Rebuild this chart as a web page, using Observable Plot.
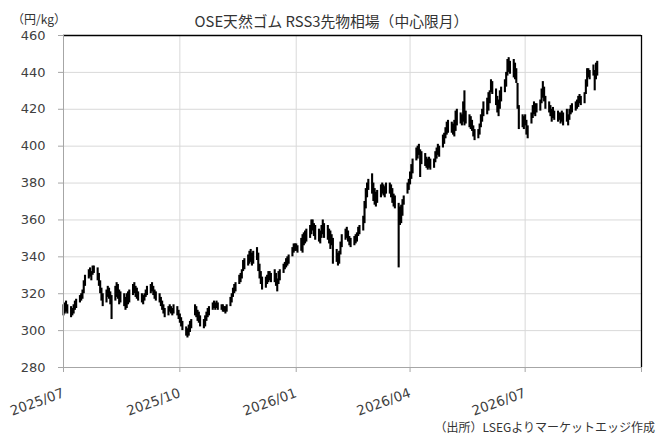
<!DOCTYPE html>
<html><head><meta charset="utf-8">
<script src="https://cdn.jsdelivr.net/npm/d3@7"></script>
<script src="https://cdn.jsdelivr.net/npm/@observablehq/plot@0.6"></script>
<style>
body{margin:0;background:#fff;}
#wrap{position:relative;width:670px;height:438px;font-family:"Noto Sans CJK JP",sans-serif;color:#333;}
#wrap svg{display:block;}
.t{position:absolute;white-space:nowrap;line-height:1;}
</style></head><body>
<div id="wrap">
<div class="t" id="unit" style="left:12px;top:13px;font-size:12px;"></div>
<div class="t" id="title" style="left:0;width:663px;text-align:center;top:14px;font-size:14.8px;"></div>
<div class="t" id="caption" style="right:15px;top:421px;font-size:12px;"></div>
</div>
<script>
const titleText = "OSE天然ゴム RSS3先物相場（中心限月）";
const unitText = "（円/kg）";
const captionText = "（出所）LSEGよりマーケットエッジ作成";
const startDate = "2025-07-01";
const yTicks = [280, 300, 320, 340, 360, 380, 400, 420, 440, 460];
const xTicks = ["2025-07-01", "2025-10-01", "2026-01-01", "2026-04-01", "2026-07-01", "2026-10-01"];
const xTickLabels = ["2025/07", "2025/10", "2026/01", "2026/04", "2026/07", ""];
// daily low / high (one row per week)
const low = [
 308,309,310,309,
 307,308,309,311,312,
 315,316,317,320,324,
 328,329,327,330,331,
 327,324,320,316,313,
 315,318,317,314,306,
 316,318,317,314,315,
 313,311,312,314,315,
 319,320,318,317,316,
 315,314,316,318,319,
 320,321,319,317,316,
 315,313,311,309,307,
 308,310,309,308,309,
 308,306,304,302,300,
 297,296,297,299,301,
 308,307,305,304,302,
 301,302,305,307,308,
 311,312,311,312,311,
 311,310,310,309,310,
 313,315,318,320,321,
 325,326,328,332,333,
 335,336,337,335,336,
 338,332,328,325,322,
 323,325,326,327,326,
 326,324,321,325,327,
 331,333,334,335,336,
 340,342,343,343,342,
 343,342,346,347,348,
 350,352,354,351,349,
 348,347,350,352,350,
 349,347,344,346,336,
 337,335,336,341,345,
 349,350,348,346,345,
 346,347,348,351,352,
 354,358,366,372,376,
 374,370,368,367,369,
 372,374,373,372,374,
 374,372,369,367,366,
 334,357,358,362,368,
 374,376,379,382,385,
 392,393,395,383,390,
 389,388,387,388,387,
 388,391,393,395,394,
 399,401,404,406,407,
 407,406,405,408,411,
 412,411,413,411,412,
 410,409,408,405,403,
 404,406,410,413,416,
 417,419,423,429,428,
 422,418,416,420,424,
 429,432,438,440,439,
 437,436,434,420,409,
 410,409,411,406,404,
 412,415,417,416,418,
 419,423,426,424,420,
 418,416,413,415,414,
 413,414,412,413,411,
 413,411,414,417,418,
 419,420,421,423,422,
 423,428,432,437,436,
 438,430,436,438
];
const high = [
 314,315,316,314,
 313,312,314,316,317,
 319,320,322,327,330,
 333,334,332,335,335,
 334,331,327,323,320,
 322,324,323,321,319,
 324,326,325,322,321,
 320,318,320,321,322,
 325,326,324,323,321,
 320,319,320,322,324,
 325,326,324,322,321,
 320,318,316,314,312,
 313,314,313,312,314,
 313,311,309,307,305,
 302,301,303,305,306,
 314,313,311,310,308,
 306,308,310,312,313,
 315,316,315,316,315,
 314,314,313,313,314,
 318,320,323,325,326,
 330,331,333,338,339,
 341,343,344,342,343,
 345,342,336,332,329,
 329,330,332,332,331,
 333,331,328,332,333,
 336,337,339,340,341,
 345,347,347,347,346,
 350,352,353,354,355,
 357,360,360,358,357,
 355,354,357,360,358,
 357,355,354,352,350,
 344,342,343,348,352,
 355,356,354,351,350,
 351,352,353,356,357,
 362,370,377,380,382,
 385,380,377,375,376,
 379,380,379,378,380,
 380,379,377,374,373,
 369,367,368,371,373,
 380,382,386,390,393,
 399,400,401,398,397,
 396,394,393,394,393,
 393,397,399,401,400,
 406,407,410,413,414,
 413,412,414,419,420,
 418,417,424,430,419,
 417,416,414,411,409,
 409,412,417,420,424,
 426,429,430,436,435,
 431,427,425,430,432,
 436,440,447,448,446,
 447,445,442,434,422,
 417,416,417,414,411,
 418,422,424,423,423,
 425,431,435,432,427,
 424,422,420,421,419,
 419,418,418,419,418,
 420,417,420,422,423,
 424,425,427,428,427,
 429,436,442,442,441,
 444,441,445,446
];

document.getElementById("title").textContent = titleText;
document.getElementById("unit").textContent = unitText;
document.getElementById("caption").textContent = captionText;

// trading-day calendar (weekdays) from the start date
const dates = [];
{
  let d = new Date(startDate + "T00:00:00Z");
  while (dates.length < low.length) {
    const wd = d.getUTCDay();
    if (wd !== 0 && wd !== 6) dates.push(new Date(d));
    d = new Date(d.getTime() + 86400000);
  }
}
const bars = dates.map((date, i) => ({date, low: low[i], high: high[i]}));
const xTickDates = xTicks.map(s => new Date(s + "T00:00:00Z"));
const xStart = xTickDates[0], xEnd = xTickDates[xTickDates.length - 1];
const fmtX = d => { const i = xTickDates.findIndex(t => +t === +d); return i < 0 ? "" : xTickLabels[i]; };

const chart = Plot.plot({
  width: 670, height: 438,
  marginLeft: 63, marginRight: 29, marginTop: 35, marginBottom: 71,
  style: {fontFamily: "'DejaVu Sans', sans-serif", fontSize: "13px", color: "#404040", background: "#fff"},
  x: {type: "utc", domain: [xStart, xEnd]},
  y: {domain: [280, 460]},
  marks: [
    Plot.gridY(yTicks, {stroke: "#d9d9d9", strokeOpacity: 1}),
    Plot.gridX(xTickDates, {stroke: "#d9d9d9", strokeOpacity: 1}),
    Plot.ruleX(bars, {x: "date", y1: "low", y2: "high", stroke: "#000", strokeWidth: 2.1}),
    Plot.ruleY([460], {stroke: "#000", strokeWidth: 1.3}),
    Plot.ruleX([xEnd], {stroke: "#000", strokeWidth: 1.3}),
    Plot.ruleX([xStart], {stroke: "#a6a6a6"}),
    Plot.ruleY([280], {stroke: "#a6a6a6"}),
    Plot.axisY(yTicks, {tickSize: 5, tickPadding: 13, stroke: "#a6a6a6", label: null, fontSize: 13}),
    Plot.axisX(xTickDates, {tickSize: 5, tickPadding: 20, tickRotate: -20, textAnchor: "end", tickFormat: fmtX, stroke: "#a6a6a6", label: null, fontSize: 13.5})
  ]
});
document.getElementById("wrap").prepend(chart);
</script>
</body></html>
